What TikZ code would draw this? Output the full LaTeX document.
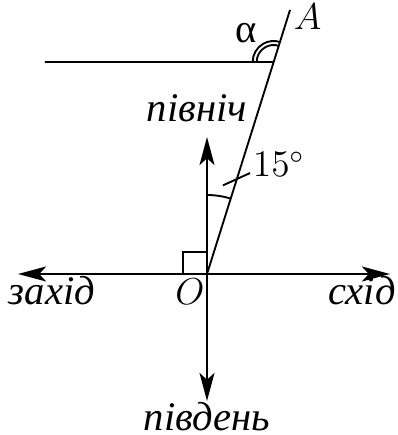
\documentclass[tikz,border=0pt]{standalone}
\usepackage{fontspec}
\newfontfamily\cyr{Liberation Serif}
\usetikzlibrary{arrows.meta, positioning, calc}

\begin{document}
\begin{tikzpicture}[x=0.32pt, y=0.32pt, line width=0.6pt,
  axis/.style={-{Stealth[length=9pt, width=4.8pt, inset=2.2pt]}},
  lbl/.style={inner sep=0pt, anchor=base, font=\cyr\itshape\fontsize{13}{15}\selectfont},
  mlbl/.style={inner sep=0pt, anchor=base, font=\fontsize{11.5}{14}\selectfont}]
  \useasboundingbox (-207,-161) rectangle (190,274);
  \coordinate (O) at (0,0);
  \coordinate (N) at (0,137);
  \coordinate (S) at (0,-127);
  \coordinate (W) at (-189,0);
  \coordinate (E) at (183,0);
  \coordinate (Atop) at (83,264);
  \coordinate (P) at ($(O)!212/264!(Atop)$);
  \coordinate (L) at (-162,212);

  \draw[axis] (O) -- (N);
  \draw[axis] (O) -- (S);
  \draw[axis] (O) -- (W);
  \draw[axis] (O) -- (E);
  \draw (L) -- (P);
  \draw (O) -- (Atop);
  \draw (O) rectangle (-24,22);

  % angles
  \draw (O) ++(90:79) arc[start angle=90, end angle=72.55, radius=79];
  \draw (P) ++(180:17) arc[start angle=180, end angle=72.55, radius=17];
  \draw (P) ++(180:21) arc[start angle=180, end angle=72.55, radius=21];
  \coordinate (T0) at (79.8:90);
  \coordinate (T1) at (66.9:109.8);
  \draw (T0) -- (T1);

  \node[lbl] (north) at (-10,152) {північ};
  \node[lbl] (south) at (0,-156) {південь};
  \node[lbl] (west) at (-155,-31) {захід};
  \node[lbl] (east) at (155,-31) {схід};
  \node[mlbl] (Olbl) at (-17,-31) {$O$};
  \node[mlbl, anchor=base west] (Albl) at (86,244) {$A$};
  \node[mlbl, anchor=base west] (deg) at (45,97) {$15^\circ$};
  \node[lbl, font=\cyr\fontsize{13}{15}\selectfont] (alpha) at (39,231) {α};
\end{tikzpicture}
\end{document}
